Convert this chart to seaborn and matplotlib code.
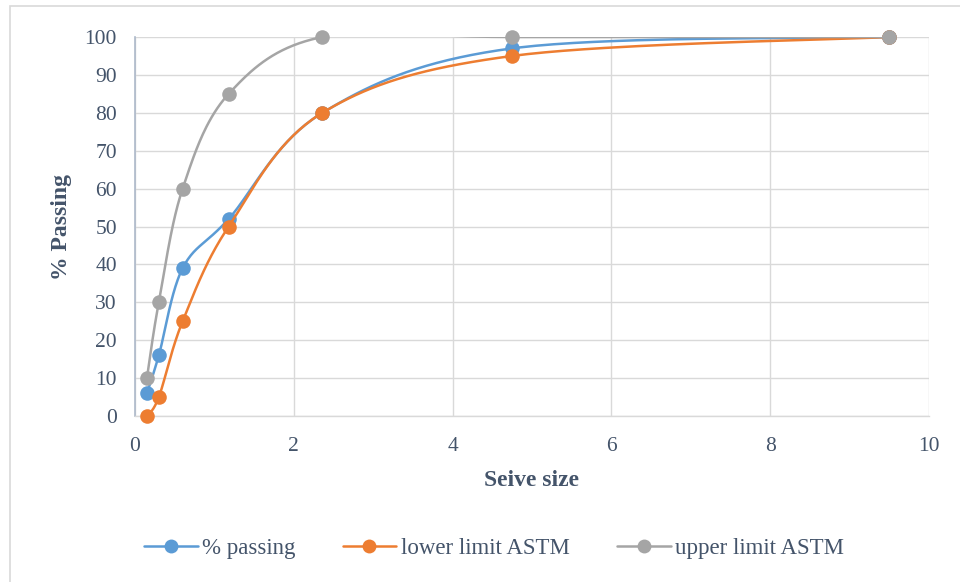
import numpy as np
import pandas as pd
import matplotlib
matplotlib.use("Agg")
import matplotlib.pyplot as plt
from matplotlib.lines import Line2D
from matplotlib.patches import Rectangle
import seaborn as sns

# Sieve sizes (mm) and gradation values (% passing)
sieve_size = [0.15, 0.3, 0.6, 1.18, 2.36, 4.75, 9.5]
pct_passing = [6, 16, 39, 52, 80, 97, 100]
lower_limit = [0, 5, 25, 50, 80, 95, 100]
upper_limit = [10, 30, 60, 85, 100, 100, 100]

series_names = ["% passing", "lower limit ASTM", "upper limit ASTM"]
series_colors = ["#5B9BD5", "#ED7D31", "#A5A5A5"]

x_ticks = [0, 2, 4, 6, 8, 10]
y_ticks = list(range(0, 101, 10))

sns.set_theme(style="white")
plt.rcParams["font.family"] = ["Liberation Serif", "DejaVu Serif"]

TEXT = "#44546A"

fig = plt.figure(figsize=(9.6, 5.82), dpi=100)
ax = fig.add_axes([135 / 960, 1 - 416 / 582, (929 - 135) / 960, (416 - 37) / 582])

# outer chart frame
fig.patches.append(Rectangle((10 / 960, -0.05), 1.0, 1 - 6 / 582 + 0.05,
                             transform=fig.transFigure, fill=False,
                             edgecolor="#D9D9D9", linewidth=1.2, zorder=0))

# pixel scale used to smooth curves in screen-proportional space
sx = (929 - 135) / 10.0
sy = (416 - 37) / 100.0


def smooth(xs, ys, n=40):
    """Cardinal (Catmull-Rom) cubic Bezier through the points, in pixel space."""
    P = np.column_stack([np.asarray(xs) * sx, np.asarray(ys) * sy])
    out = []
    m = len(P)
    for i in range(m - 1):
        p0 = P[i - 1] if i > 0 else P[i]
        p1, p2 = P[i], P[i + 1]
        p3 = P[i + 2] if i + 2 < m else P[i + 1]
        c1 = p1 + (p2 - p0) / 6.0
        c2 = p2 - (p3 - p1) / 6.0
        t = np.linspace(0, 1, n)[:, None]
        seg = ((1 - t) ** 3) * p1 + 3 * ((1 - t) ** 2) * t * c1 + 3 * (1 - t) * t ** 2 * c2 + t ** 3 * p2
        out.append(seg if i == 0 else seg[1:])
    c = np.vstack(out)
    return c[:, 0] / sx, c[:, 1] / sy


values = [pct_passing, lower_limit, upper_limit]
for k, (name, vals, col) in enumerate(zip(series_names, values, series_colors)):
    cx, cy = smooth(sieve_size, vals)
    curve = pd.DataFrame({"x": cx, "y": cy})
    sns.lineplot(data=curve, x="x", y="y", ax=ax, color=col, linewidth=1.8,
                 sort=False, estimator=None, zorder=3 + 2 * k, legend=False)
    pts = pd.DataFrame({"x": sieve_size, "y": vals})
    sns.scatterplot(data=pts, x="x", y="y", ax=ax, color=col, s=110,
                    edgecolor=col, linewidth=0, zorder=4 + 2 * k, legend=False,
                    clip_on=False)

ax.set_xlim(0, 10)
ax.set_ylim(0, 100)
ax.set_xticks(x_ticks)
ax.set_yticks(y_ticks)
ax.grid(True, color="#D9D9D9", linewidth=1.0)
ax.set_axisbelow(True)
for s in ["top", "right"]:
    ax.spines[s].set_visible(False)
ax.spines["left"].set_color("#ADB9CA")
ax.spines["left"].set_linewidth(1.2)
ax.spines["bottom"].set_color("#D9D9D9")
ax.spines["bottom"].set_linewidth(1.0)
ax.tick_params(axis="both", length=0, labelsize=15.5, labelcolor=TEXT)
ax.tick_params(axis="y", pad=13)
ax.tick_params(axis="x", pad=15)

ax.set_xlabel("Seive size", fontsize=17, fontweight="bold", color=TEXT)
ax.set_ylabel("% Passing", fontsize=17, fontweight="bold", color=TEXT)
ax.xaxis.label.set_va("center")
ax.yaxis.label.set_va("center")
ax.xaxis.set_label_coords(0.5, (416 - 481) / 379)
ax.yaxis.set_label_coords((62 - 135) / 794, 0.5)

handles = [Line2D([0], [0], color=c, linewidth=1.8, marker="o", markersize=10,
                  markeredgewidth=0) for c in series_colors]
fig.legend(handles, series_names, loc="center", bbox_to_anchor=(494 / 960, 1 - 548 / 582),
           ncol=3, frameon=False, fontsize=16.5, labelcolor=TEXT,
           handlelength=2.35, handletextpad=0.2, columnspacing=2.05)

fig.savefig("out.png", dpi=100)
